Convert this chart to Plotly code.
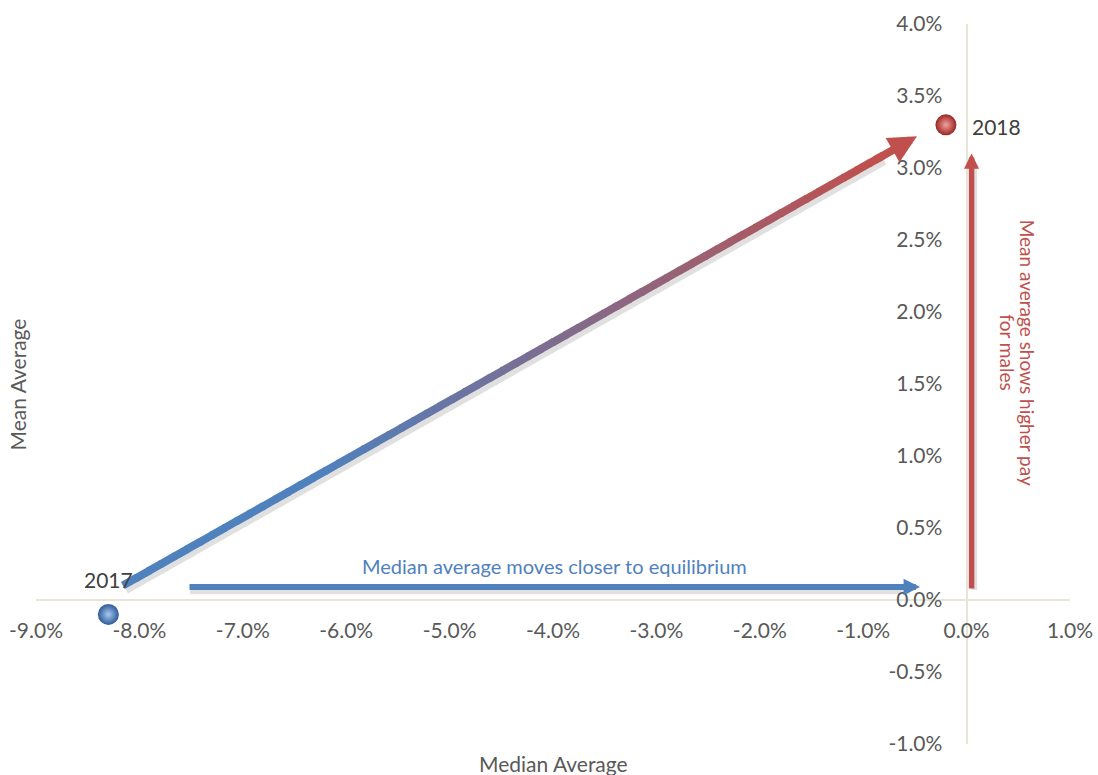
import plotly.graph_objects as go

# ---- data ----
years = ["2017", "2018"]
median_avg = [-8.3, -0.2]     # x, %
mean_avg = [-0.1, 3.3]        # y, %
x_ticks = [-9, -8, -7, -6, -5, -4, -3, -2, -1, 0, 1]
y_ticks = [-1.0, -0.5, 0.0, 0.5, 1.0, 1.5, 2.0, 2.5, 3.0, 3.5, 4.0]

FONT = "Lato"
BLUE = "#4F81BD"
RED = "#C0504D"
AXIS_LINE = "#E8E5D8"
TICK_COL = "#595959"

fig = go.Figure()

# spheres
fig.add_trace(go.Scatter(
    x=[median_avg[0]], y=[mean_avg[0]], mode="markers",
    marker=dict(size=21, color="#2C5A98",
                gradient=dict(type="radial", color="#A8C8F0"),
                line=dict(width=0)),
    hoverinfo="skip", showlegend=False, cliponaxis=False))
fig.add_trace(go.Scatter(
    x=[median_avg[1]], y=[mean_avg[1]], mode="markers",
    marker=dict(size=21, color="#9A2522",
                gradient=dict(type="radial", color="#F2A19E"),
                line=dict(width=0)),
    hoverinfo="skip", showlegend=False, cliponaxis=False))

shapes = []
annotations = []

# ---- gradient arrow (blue -> red) ----
g_start = (-8.16, 0.10)
g_end = (-0.48, 3.22)
head_frac = 0.955  # where the red head annotation begins

def lerp(a, b, t):
    return a + (b - a) * t

def mix(c1, c2, t):
    c1 = [int(c1[i:i + 2], 16) for i in (1, 3, 5)]
    c2 = [int(c2[i:i + 2], 16) for i in (1, 3, 5)]
    c = [round(lerp(c1[k], c2[k], t)) for k in range(3)]
    return "rgb(%d,%d,%d)" % tuple(c)

# shadow
sdx, sdy = 0.025, -0.025
shapes.append(dict(type="line", xref="x", yref="y",
                   x0=g_start[0] + sdx, y0=g_start[1] + sdy,
                   x1=lerp(g_start[0], g_end[0], head_frac) + sdx,
                   y1=lerp(g_start[1], g_end[1], head_frac) + sdy,
                   line=dict(color="rgba(0,0,0,0.12)", width=10), layer="below"))
N = 60
for i in range(N):
    t0 = i / N * head_frac
    t1 = (i + 1) / N * head_frac
    tm = (t0 + t1) / 2
    tc = min(max((tm - 0.25) / 0.7, 0), 1)
    shapes.append(dict(type="line", xref="x", yref="y",
                       x0=lerp(g_start[0], g_end[0], t0), y0=lerp(g_start[1], g_end[1], t0),
                       x1=lerp(g_start[0], g_end[0], t1 + 0.002), y1=lerp(g_start[1], g_end[1], t1 + 0.002),
                       line=dict(color=mix(BLUE, RED, tc), width=8)))
annotations.append(dict(
    x=g_end[0], y=g_end[1], xref="x", yref="y",
    ax=lerp(g_start[0], g_end[0], head_frac - 0.01), ay=lerp(g_start[1], g_end[1], head_frac - 0.01),
    axref="x", ayref="y", text="", showarrow=True,
    arrowhead=2, arrowsize=0.7, arrowwidth=8, arrowcolor=RED))

# ---- blue horizontal arrow ----
b_start = (-7.53, 0.09)
b_end = (-0.45, 0.09)
shapes.append(dict(type="line", xref="x", yref="y",
                   x0=b_start[0] + 0.02, y0=b_start[1] - 0.025, x1=b_end[0] - 0.1, y1=b_end[1] - 0.025,
                   line=dict(color="rgba(0,0,0,0.12)", width=7), layer="below"))
annotations.append(dict(
    x=b_end[0], y=b_end[1], xref="x", yref="y",
    ax=b_start[0], ay=b_start[1], axref="x", ayref="y",
    text="", showarrow=True, arrowhead=2, arrowsize=0.55, arrowwidth=6, arrowcolor=BLUE))
annotations.append(dict(
    x=(b_start[0] + b_end[0]) / 2, y=b_end[1], xref="x", yref="y",
    text="Median average moves closer to equilibrium", showarrow=False,
    yanchor="bottom", yshift=7,
    font=dict(family=FONT, size=20, color=BLUE)))

# ---- red vertical arrow ----
r_start = (0.048, 0.07)
r_end = (0.048, 3.10)
shapes.append(dict(type="line", xref="x", yref="y",
                   x0=r_start[0] + 0.025, y0=r_start[1], x1=r_end[0] + 0.025, y1=r_end[1] - 0.1,
                   line=dict(color="rgba(0,0,0,0.12)", width=6), layer="below"))
annotations.append(dict(
    x=r_end[0], y=r_end[1], xref="x", yref="y",
    ax=r_start[0], ay=r_start[1], axref="x", ayref="y",
    text="", showarrow=True, arrowhead=2, arrowsize=0.55, arrowwidth=5.5, arrowcolor=RED))
annotations.append(dict(
    x=0.59, y=1.72, xref="x", yref="y",
    text="Mean average shows higher pay", showarrow=False,
    textangle=90, font=dict(family=FONT, size=19, color=RED)))
annotations.append(dict(
    x=0.40, y=1.72, xref="x", yref="y",
    text="for males", showarrow=False,
    textangle=90, font=dict(family=FONT, size=19, color=RED)))

# ---- year labels ----
annotations.append(dict(
    x=median_avg[0], y=mean_avg[0], xref="x", yref="y", text=years[0],
    showarrow=False, yshift=35, font=dict(family=FONT, size=21, color="#404040")))
annotations.append(dict(
    x=median_avg[1], y=mean_avg[1], xref="x", yref="y", text=years[1],
    showarrow=False, xanchor="left", xshift=24, yshift=-2,
    font=dict(family=FONT, size=21, color="#404040")))

# ---- axis titles ----
annotations.append(dict(
    x=0.5, y=-0.0264, xref="paper", yref="paper", text="Median Average",
    showarrow=False, yanchor="middle",
    font=dict(family=FONT, size=21, color=TICK_COL)))
annotations.append(dict(
    x=-0.018, y=0.5, xref="paper", yref="paper", text="Mean Average",
    showarrow=False, textangle=-90, xanchor="center",
    font=dict(family=FONT, size=21, color=TICK_COL)))

fig.update_layout(
    template="none",
    width=1098, height=775,
    margin=dict(l=36, r=28, t=24, b=31, autoexpand=False),
    plot_bgcolor="white", paper_bgcolor="white",
    shapes=shapes, annotations=annotations,
    showlegend=False,
    xaxis=dict(range=[-9, 1], tickvals=x_ticks,
               ticktext=["%.1f%%" % v for v in x_ticks],
               anchor="free", position=0.2, automargin=False,
               showgrid=False, zeroline=False,
               showline=True, linecolor=AXIS_LINE, linewidth=2,
               ticks="", ticklabelstandoff=12,
               tickfont=dict(family=FONT, size=21, color=TICK_COL)),
    yaxis=dict(range=[-1, 4], tickvals=y_ticks,
               ticktext=["%.1f%%" % v for v in y_ticks],
               anchor="free", position=0.9, automargin=False,
               showgrid=False, zeroline=False,
               showline=True, linecolor=AXIS_LINE, linewidth=2,
               ticks="", ticklabelstandoff=19,
               tickfont=dict(family=FONT, size=21, color=TICK_COL)),
)

fig.write_html("out.html")
